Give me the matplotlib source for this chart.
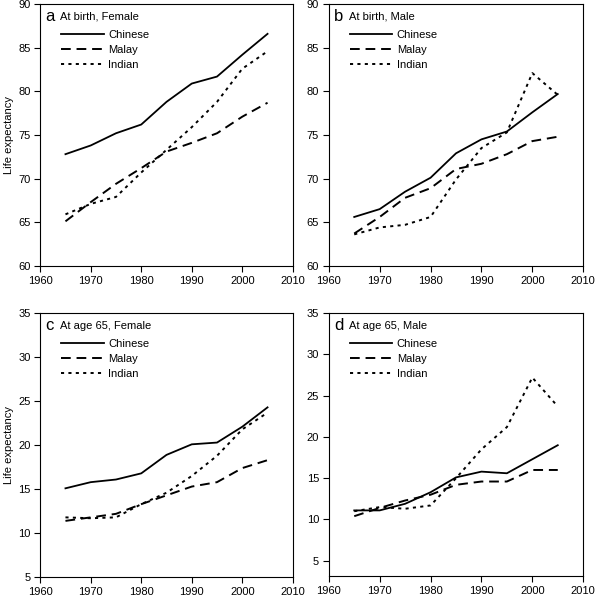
#!/usr/bin/env python3

import matplotlib
matplotlib.use("Agg")
import matplotlib.pyplot as plt

plt.rcParams['font.family'] = ['Liberation Sans', 'DejaVu Sans']

years = [1965, 1970, 1975, 1980, 1985, 1990, 1995, 2000, 2005]

# a: at birth, female
a_chinese = [72.8, 73.8, 75.2, 76.2, 78.8, 80.9, 81.7, 84.2, 86.6]
a_malay = [65.1, 67.3, 69.4, 71.2, 73.1, 74.1, 75.2, 77.1, 78.7]
a_indian = [65.9, 67.1, 67.9, 70.7, 73.3, 75.9, 78.8, 82.6, 84.6]

# b: at birth, male
b_chinese = [65.6, 66.5, 68.5, 70.1, 72.9, 74.5, 75.4, 77.6, 79.7]
b_malay = [63.7, 65.6, 67.8, 68.9, 71.1, 71.7, 72.8, 74.3, 74.8]
b_indian = [63.6, 64.4, 64.7, 65.6, 69.9, 73.5, 75.3, 82.1, 79.6]

# c: at age 65, female
c_chinese = [15.1, 15.8, 16.1, 16.8, 18.9, 20.1, 20.3, 22.1, 24.3]
c_malay = [11.4, 11.8, 12.2, 13.3, 14.3, 15.3, 15.8, 17.4, 18.3]
c_indian = [11.8, 11.7, 11.8, 13.3, 14.6, 16.5, 18.8, 21.8, 23.7]

# d: at age 65, male
d_chinese = [11.1, 11.1, 11.9, 13.3, 15.1, 15.8, 15.6, 17.3, 19.0]
d_malay = [10.4, 11.4, 12.3, 13.0, 14.2, 14.6, 14.6, 16.0, 16.0]
d_indian = [11.0, 11.5, 11.3, 11.7, 15.0, 18.5, 21.2, 27.2, 23.7]

group_names = ['Chinese', 'Malay', 'Indian']
panel_letters = ['a', 'b', 'c', 'd']
panel_titles = ['At birth, Female', 'At birth, Male', 'At age 65, Female', 'At age 65, Male']

panels = [
    (a_chinese, a_malay, a_indian),
    (b_chinese, b_malay, b_indian),
    (c_chinese, c_malay, c_indian),
    (d_chinese, d_malay, d_indian),
]

# axes boxes in figure fraction [left, bottom, width, height]
boxes = [
    [0.067, 0.557, 0.421, 0.436],
    [0.548, 0.557, 0.424, 0.436],
    [0.067, 0.038, 0.421, 0.440],
    [0.548, 0.040, 0.424, 0.438],
]
ylims = [(60, 90), (60, 90), (5, 35), (3.15, 35)]
yticks = [range(60, 91, 5), range(60, 91, 5), range(5, 36, 5), range(5, 36, 5)]

styles = [
    dict(linestyle='-', linewidth=1.3),
    dict(linestyle=(0, (5, 3)), linewidth=1.4),
    dict(linestyle=(0, (1.6, 2.2)), linewidth=1.4),
]

fig = plt.figure(figsize=(6, 6), dpi=100)

for i, series in enumerate(panels):
    ax = fig.add_axes(boxes[i])
    for name, vals, st in zip(group_names, series, styles):
        ax.plot(years, vals, color='black', label=name, **st)
    ax.set_xlim(1960, 2010)
    ax.set_ylim(*ylims[i])
    ax.set_xticks(range(1960, 2011, 10))
    ax.set_yticks(list(yticks[i]))
    ax.tick_params(direction='out', length=4, width=0.8, labelsize=8, pad=3)
    for sp in ax.spines.values():
        sp.set_linewidth(0.8)
    if i % 2 == 0:
        ax.set_ylabel('Life expectancy', fontsize=8, labelpad=3)
    ax.text(0.02, 0.952, panel_letters[i], transform=ax.transAxes,
            fontsize=12, va='center', ha='left')
    ax.text(0.078, 0.952, panel_titles[i], transform=ax.transAxes,
            fontsize=8, va='center', ha='left')
    ax.legend(loc='upper left', bbox_to_anchor=(0.066, 0.918), frameon=False,
              fontsize=8, handlelength=3.8, handletextpad=0.4,
              labelspacing=0.45, borderaxespad=0)

plt.savefig('out.png', dpi=100)
